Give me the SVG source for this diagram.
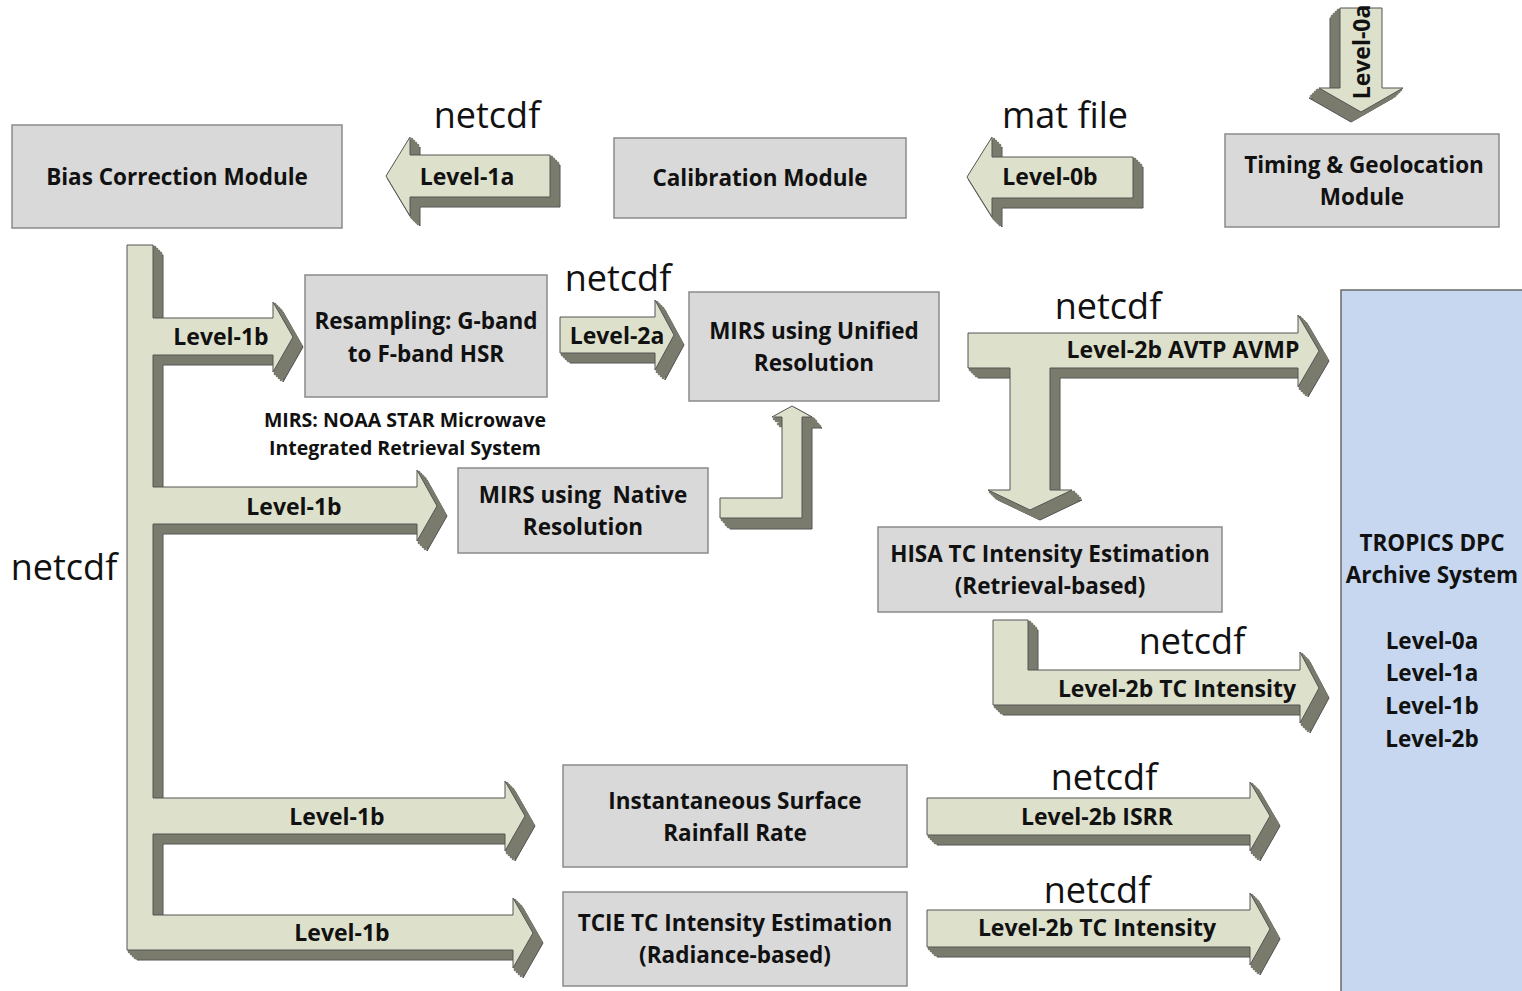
<svg xmlns="http://www.w3.org/2000/svg" xmlns:xlink="http://www.w3.org/1999/xlink" width="1522" height="991" viewBox="0 0 1522 991">
<style>
.box{fill:#d9d9d9;stroke:#8a8a8a;stroke-width:1.5}
.arch{fill:#c6d7ef;stroke:#6a6a6a;stroke-width:1.5}
.t{font-family:"Open Sans","Noto Sans",sans-serif;font-weight:bold;font-size:22.5px;fill:#111;text-anchor:middle}
.al{font-family:"Open Sans","Noto Sans",sans-serif;font-weight:bold;font-size:23px;fill:#111;text-anchor:middle}
.nt{font-family:"Open Sans","Noto Sans",sans-serif;font-size:36px;fill:#111;text-anchor:middle}
.note{font-family:"Open Sans","Noto Sans",sans-serif;font-weight:bold;font-size:19.5px;fill:#111;text-anchor:middle}
.bk{fill:#7a7b6d;stroke:#505050;stroke-width:1}
.sd{fill:#7a7b6d;stroke:#7a7b6d;stroke-width:2.5;stroke-linejoin:round}
.fr{fill:#dde0cb;stroke:#555;stroke-width:1}
</style>
<defs>
<path id="p1a" d="M550,155 L410,155 L410,137 L386,176 L410,216 L410,197 L550,197 Z"/>
<path id="p0b" d="M1133,157 L992,157 L992,137 L967,177 L992,217 L992,198 L1133,198 Z"/>
<path id="p0a" d="M1340,8 L1382,8 L1382,88 L1403,88 L1361,112 L1319,88 L1340,88 Z"/>
<path id="pcomb" d="M127,245 L153,245 L153,318 L273,318 L273,302 L293,337 L273,372 L273,355 L153,355 L153,487 L417,487 L417,470 L437,506 L417,541 L417,524 L153,524 L153,798 L505,798 L505,781 L525,816 L505,851 L505,834 L153,834 L153,915 L513,915 L513,898 L533,933 L513,968 L513,950 L127,950 Z"/>
<path id="p2a" d="M560,317 L655,317 L655,300 L674,335 L655,370 L655,353 L560,353 Z"/>
<path id="pT" d="M968,333 L1298,333 L1298,315 L1319,351 L1298,387 L1298,368 L1050,368 L1050,490 L1072,490 L1030,510 L988,490 L1010,490 L1010,368 L968,368 Z"/>
<path id="pL" d="M993,620 L1028,620 L1028,670 L1300,670 L1300,652 L1319,688 L1300,723 L1300,705 L993,705 Z"/>
<path id="pIS" d="M927,798 L1250,798 L1250,782 L1270,816 L1250,851 L1250,835 L927,835 Z"/>
<path id="pTC" d="M927,910 L1250,910 L1250,893 L1270,929 L1250,965 L1250,947 L927,947 Z"/>
<path id="pUp" d="M720,498 L782,498 L782,417 L772,417 L792,406 L812,417 L802,417 L802,518 L720,518 Z"/>
</defs>
<rect width="1522" height="991" fill="#ffffff"/>

<g id="archive">
<rect class="arch" x="1341" y="290" width="185" height="705"/>
<text class="t" x="1432" y="551">TROPICS DPC</text>
<text class="t" x="1432" y="583">Archive System</text>
<text class="t" x="1432" y="649">Level-0a</text>
<text class="t" x="1432" y="681">Level-1a</text>
<text class="t" x="1432" y="714">Level-1b</text>
<text class="t" x="1432" y="747">Level-2b</text>
</g>

<g id="connectors">
<g id="c-level1a">
<use href="#p1a" class="bk" x="10" y="10"/><use href="#p1a" class="sd" x="8" y="8"/><use href="#p1a" class="sd" x="6" y="6"/><use href="#p1a" class="sd" x="4" y="4"/><use href="#p1a" class="sd" x="2" y="2"/><use href="#p1a" class="fr"/>
<text class="al" x="467" y="185">Level-1a</text>
</g>
<g id="c-level0b">
<use href="#p0b" class="bk" x="10" y="10"/><use href="#p0b" class="sd" x="8" y="8"/><use href="#p0b" class="sd" x="6" y="6"/><use href="#p0b" class="sd" x="4" y="4"/><use href="#p0b" class="sd" x="2" y="2"/><use href="#p0b" class="fr"/>
<text class="al" x="1050" y="185">Level-0b</text>
</g>
<g id="c-level0a">
<use href="#p0a" class="bk" x="-10" y="10"/><use href="#p0a" class="sd" x="-8" y="8"/><use href="#p0a" class="sd" x="-6" y="6"/><use href="#p0a" class="sd" x="-4" y="4"/><use href="#p0a" class="sd" x="-2" y="2"/><use href="#p0a" class="fr"/>
<text class="al" transform="translate(1370,52) rotate(-90)" x="0" y="0">Level-0a</text>
</g>
<g id="c-level1b">
<use href="#pcomb" class="bk" x="10" y="10"/><use href="#pcomb" class="sd" x="8" y="8"/><use href="#pcomb" class="sd" x="6" y="6"/><use href="#pcomb" class="sd" x="4" y="4"/><use href="#pcomb" class="sd" x="2" y="2"/><use href="#pcomb" class="fr"/>
<text class="al" x="221" y="345">Level-1b</text>
<text class="al" x="294" y="515">Level-1b</text>
<text class="al" x="337" y="825">Level-1b</text>
<text class="al" x="342" y="941">Level-1b</text>
</g>
<g id="c-level2a">
<use href="#p2a" class="bk" x="10" y="10"/><use href="#p2a" class="sd" x="8" y="8"/><use href="#p2a" class="sd" x="6" y="6"/><use href="#p2a" class="sd" x="4" y="4"/><use href="#p2a" class="sd" x="2" y="2"/><use href="#p2a" class="fr"/>
<text class="al" x="617" y="344">Level-2a</text>
</g>
<g id="c-native-unified">
<use href="#pUp" class="bk" x="10" y="11"/><use href="#pUp" class="sd" x="8" y="9"/><use href="#pUp" class="sd" x="6" y="7"/><use href="#pUp" class="sd" x="4" y="4"/><use href="#pUp" class="sd" x="2" y="2"/><use href="#pUp" class="fr"/>
</g>
<g id="c-avtp">
<use href="#pT" class="bk" x="10" y="10"/><use href="#pT" class="sd" x="8" y="8"/><use href="#pT" class="sd" x="6" y="6"/><use href="#pT" class="sd" x="4" y="4"/><use href="#pT" class="sd" x="2" y="2"/><use href="#pT" class="fr"/>
<text class="al" x="1183" y="358">Level-2b AVTP AVMP</text>
</g>
<g id="c-hisa">
<use href="#pL" class="bk" x="10" y="10"/><use href="#pL" class="sd" x="8" y="8"/><use href="#pL" class="sd" x="6" y="6"/><use href="#pL" class="sd" x="4" y="4"/><use href="#pL" class="sd" x="2" y="2"/><use href="#pL" class="fr"/>
<text class="al" x="1177" y="697">Level-2b TC Intensity</text>
</g>
<g id="c-isrr">
<use href="#pIS" class="bk" x="10" y="10"/><use href="#pIS" class="sd" x="8" y="8"/><use href="#pIS" class="sd" x="6" y="6"/><use href="#pIS" class="sd" x="4" y="4"/><use href="#pIS" class="sd" x="2" y="2"/><use href="#pIS" class="fr"/>
<text class="al" x="1097" y="825">Level-2b ISRR</text>
</g>
<g id="c-tcie">
<use href="#pTC" class="bk" x="10" y="10"/><use href="#pTC" class="sd" x="8" y="8"/><use href="#pTC" class="sd" x="6" y="6"/><use href="#pTC" class="sd" x="4" y="4"/><use href="#pTC" class="sd" x="2" y="2"/><use href="#pTC" class="fr"/>
<text class="al" x="1097" y="936">Level-2b TC Intensity</text>
</g>
<g id="format-labels">
<text class="nt" x="487" y="128">netcdf</text>
<text class="nt" x="1065" y="128">mat file</text>
<text class="nt" x="618" y="291">netcdf</text>
<text class="nt" x="1108" y="319">netcdf</text>
<text class="nt" x="64" y="580">netcdf</text>
<text class="nt" x="1192" y="654">netcdf</text>
<text class="nt" x="1104" y="790">netcdf</text>
<text class="nt" x="1097" y="903">netcdf</text>
</g>
</g>

<g id="bias">
<rect class="box" x="12" y="125" width="330" height="103"/>
<text class="t" x="177" y="185">Bias Correction Module</text>
</g>
<g id="calibration">
<rect class="box" x="614" y="138" width="292" height="80"/>
<text class="t" x="760" y="186">Calibration Module</text>
</g>
<g id="timing">
<rect class="box" x="1225" y="134" width="274" height="93"/>
<text class="t" x="1364" y="173">Timing &amp; Geolocation</text>
<text class="t" x="1362" y="205">Module</text>
</g>
<g id="resampling">
<rect class="box" x="305" y="275" width="242" height="122"/>
<text class="t" x="426" y="329">Resampling: G-band</text>
<text class="t" x="426" y="362">to F-band HSR</text>
</g>
<g id="mirs-unified">
<rect class="box" x="689" y="292" width="250" height="109"/>
<text class="t" x="814" y="339">MIRS using Unified</text>
<text class="t" x="814" y="371">Resolution</text>
</g>
<g id="mirs-note">
<text class="note" x="405" y="427">MIRS: NOAA STAR Microwave</text>
<text class="note" x="405" y="455">Integrated Retrieval System</text>
</g>
<g id="mirs-native">
<rect class="box" x="458" y="468" width="250" height="85"/>
<text class="t" x="583" y="503" style="white-space:pre">MIRS using  Native</text>
<text class="t" x="583" y="535">Resolution</text>
</g>
<g id="hisa">
<rect class="box" x="878" y="527" width="344" height="85"/>
<text class="t" x="1050" y="562">HISA TC Intensity Estimation</text>
<text class="t" x="1050" y="594">(Retrieval-based)</text>
</g>
<g id="isrr">
<rect class="box" x="563" y="765" width="344" height="102"/>
<text class="t" x="735" y="809">Instantaneous Surface</text>
<text class="t" x="735" y="841">Rainfall Rate</text>
</g>
<g id="tcie">
<rect class="box" x="563" y="892" width="344" height="94"/>
<text class="t" x="735" y="931">TCIE TC Intensity Estimation</text>
<text class="t" x="735" y="963">(Radiance-based)</text>
</g>
</svg>
